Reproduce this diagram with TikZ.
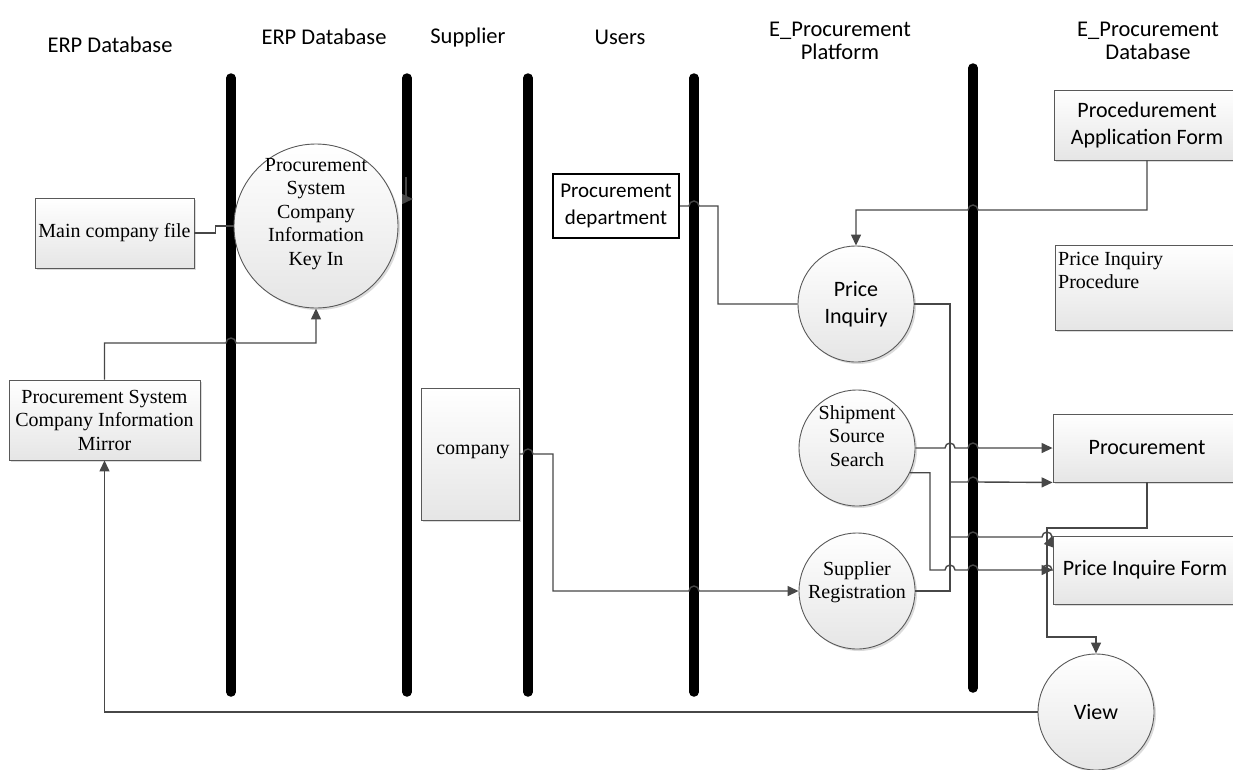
\documentclass[tikz,border=0pt]{standalone}
\usepackage{fontspec}
\setmainfont{Liberation Serif}
\newfontfamily\calib{Carlito}
\usetikzlibrary{arrows.meta,shadows}
\tikzset{
  hdr/.style={font=\calib\fontsize{22.5}{23}\selectfont, align=center, inner sep=0pt},
  tms/.style={font=\fontsize{20}{23.5}\selectfont, align=center, inner sep=0pt},
  sns/.style={font=\calib\fontsize{22}{27}\selectfont, align=center},
  lane/.style={line width=9.5pt, line cap=round, black},
  shadeb/.style={draw=black!65, line width=0.9pt, top color=white, bottom color=black!10,
    drop shadow={shadow xshift=2pt, shadow yshift=-2pt, fill=black!35, opacity=0.4}},
  rbox/.style={shadeb, rectangle, inner sep=0pt},
  proc/.style={shadeb, circle, inner sep=0pt, minimum size=116pt},
  conn/.style={draw=black!72, line width=1.4pt},
  arr/.style={-{Triangle[length=11pt,width=10pt]}}
}
\begin{document}
\begin{tikzpicture}[x=1pt,y=1pt]
\useasboundingbox (0,0) rectangle (1233,-769);

% headers
\node[hdr] (h1) at (110,-45) {ERP Database};
\node[hdr] (h2) at (324,-37) {ERP Database};
\node[hdr] (h3) at (468,-37) {Supplier};
\node[hdr] (h4) at (620,-37) {Users};
\node[hdr] (h5) at (840,-41) {E\_Procurement\\Platform};
\node[hdr] (h6) at (1148,-41) {E\_Procurement\\Database};

% lanes
\draw[lane] (231,-78) -- (231,-692);
\draw[lane] (407,-78) -- (407,-692);
\draw[lane] (528,-78) -- (528,-692);
\draw[lane] (694,-78) -- (694,-692);
\draw[lane] (973,-68) -- (973,-688);

% nodes
\node[rbox, minimum width=159pt, minimum height=70pt] (mainfile) at (114.5,-233) {};
\node[tms] (mainfileT) at (114.5,-233) {Main company file};
\node[proc, minimum size=164pt] (keyin) at (316,-226) {};
\node[tms] (keyinT) at (316,-214) {Procurement\\System\\Company\\Information\\Key In};
\node[rbox, minimum width=191pt, minimum height=80pt] (mirror) at (104.5,-420) {};
\node[tms] (mirrorT) at (104.5,-420) {Procurement System\\Company Information\\Mirror};
\node[rbox, minimum width=98pt, minimum height=132pt] (company) at (470,-454) {};
\node[tms] (companyT) at (473,-452) {company};
\node[draw=black, line width=2pt, fill=white, minimum width=126pt, minimum height=64pt, inner sep=0pt,
  font=\calib\fontsize{21}{27}\selectfont, align=center] (procdept) at (616,-206) {Procurement\\department};

\node[proc] (priceinq) at (856,-304) {};
\node[sns, inner sep=0pt] (priceinqT) at (856,-304) {Price\\Inquiry};
\node[proc] (shipment) at (857,-448) {};
\node[tms] (shipmentT) at (857,-436) {Shipment\\Source\\Search};
\node[proc] (supreg) at (857,-591) {};
\node[tms] (supregT) at (857,-582) {Supplier\\Registration};
\node[proc] (view) at (1096,-712) {};
\node[sns, inner sep=0pt] (viewT) at (1096,-712) {View};

\node[rbox, minimum width=186pt, minimum height=70pt] (appform) at (1147,-125) {};
\node[sns, inner sep=0pt] (appformT) at (1147,-125) {Procedurement\\Application Form};
\node[rbox, minimum width=186pt, minimum height=85pt] (piproc) at (1148,-287.5) {};
\node[tms, align=left, anchor=north west] (piprocT) at (1058,-252) {Price Inquiry\\Procedure};
\node[rbox, minimum width=188pt, minimum height=68pt] (procbox) at (1147,-448) {};
\node[sns, inner sep=0pt] (procboxT) at (1147,-448) {Procurement};
\node[rbox, minimum width=188pt, minimum height=68pt] (piform) at (1147,-570) {};
\node[sns, inner sep=0pt] (piformT) at (1145,-570) {Price Inquire Form};

% connectors
\draw[conn] (mainfile.east) -- ++(21,0) |- (keyin.west);
\draw[conn,arr] (mirror.north) |- (226,-343) arc[start angle=180,end angle=0,radius=5] -| (keyin.south);
\draw[conn,arr] (view.west) -| (mirror.south);
\draw[conn,arr] (company.east) -- (523,-454) arc[start angle=180,end angle=0,radius=5]
  -- (553,-454) |- (689,-591) arc[start angle=180,end angle=0,radius=5] -- (supreg.west);
\draw[conn] (procdept.east) -- (689,-206) arc[start angle=180,end angle=0,radius=5]
  -- (718,-206) |- (priceinq.west);
\draw[conn,arr] (appform.south) |- (978,-210) arc[start angle=0,end angle=180,radius=5] -| (priceinq.north);

\coordinate (b1) at (950,-482);
\coordinate (b2) at (950,-537);
\draw[conn] (priceinq.east) -| (950,-591) -- (supreg.east);
\draw[conn,arr] (b1) -- (968,-482) arc[start angle=180,end angle=0,radius=5] -- (procbox.south west);
\draw[conn,arr] (b2) -- (968,-537) arc[start angle=180,end angle=0,radius=5]
  -- (1042,-537) arc[start angle=180,end angle=0,radius=5] -- (piform.north west);
\draw[conn,arr] (shipment.east) -- (945,-448) arc[start angle=180,end angle=0,radius=5]
  -- (968,-448) arc[start angle=180,end angle=0,radius=5] -- (procbox.west);
\draw[conn,arr] (shipment.-25) -| (930,-570) -- (945,-570) arc[start angle=180,end angle=0,radius=5]
  -- (968,-570) arc[start angle=180,end angle=0,radius=5]
  -- (1042,-570) arc[start angle=180,end angle=0,radius=5] -- (piform.west);
\draw[conn,arr] (procbox.south) |- (1047,-528) -- (1047,-637) -| (view.north);

\coordinate (stubA) at (406,-177);
\coordinate (stubB) at (413,-199);
\draw[conn,arr] (stubA) |- (stubB);
\end{tikzpicture}
\end{document}
